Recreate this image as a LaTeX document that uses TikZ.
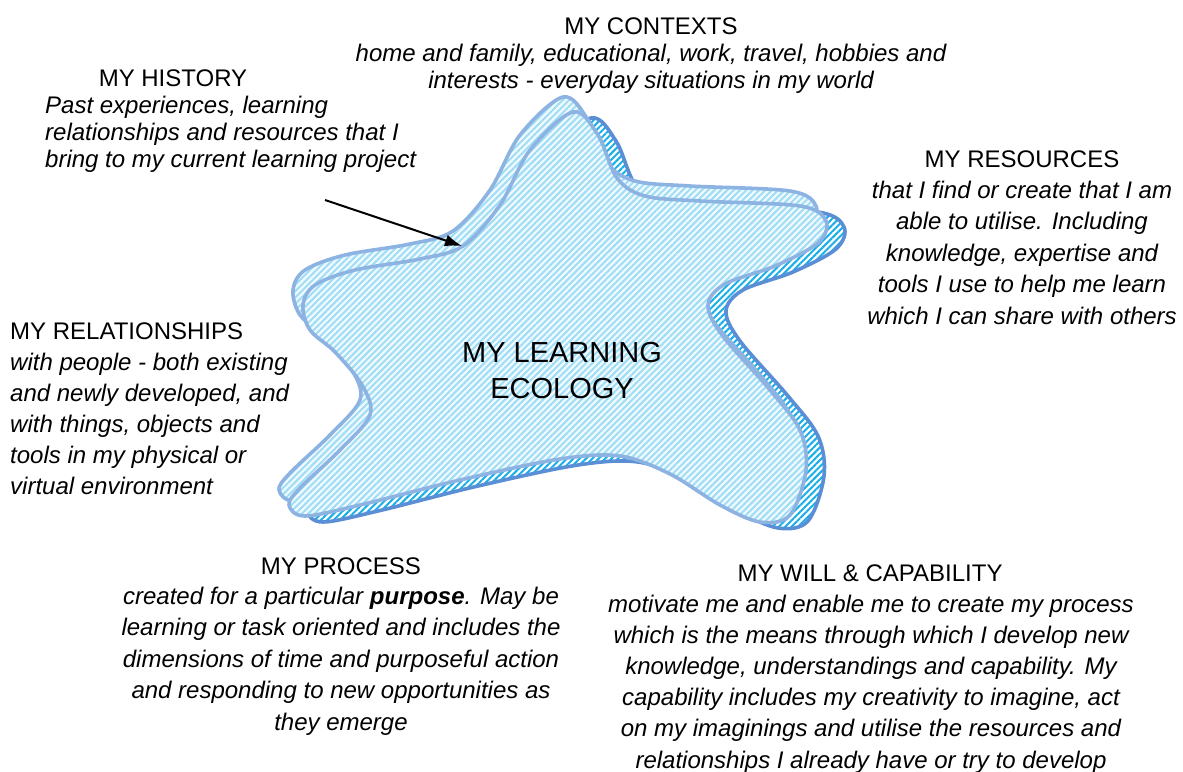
\documentclass[tikz,border=0pt]{standalone}
\usepackage{fontspec}
\setmainfont{Liberation Sans}
\usetikzlibrary{patterns.meta,arrows.meta}
\definecolor{edgelight}{HTML}{8DB3E2}
\definecolor{edgedark}{HTML}{5A8FD6}
\definecolor{bglight}{HTML}{F0FAFE}
\definecolor{stripelight}{HTML}{9EDDF5}
\definecolor{stripedark}{HTML}{18AEE8}
\newcommand{\blobpath}{plot[smooth cycle, tension=0.55] coordinates {
(573,112) (598,135) (617,178) (645,196) (700,201) (800,206) (826,221)
(818,243) (775,266) (725,284) (708,305) (722,335) (770,390) (800,430)
(806,470) (790,515) (760,522) (720,505) (670,474) (620,456) (560,459)
(460,480) (360,505) (305,516) (289,505) (300,488) (340,450) (370,415)
(362,385) (335,352) (310,330) (303,305) (315,285) (355,270) (420,259)
(463,246) (500,205) (530,150)}}
\tikzset{
  head/.style={font=\fontsize{24}{28}\selectfont, inner sep=0pt},
  bodyc/.style={font=\fontsize{24}{31.5}\selectfont\itshape, align=center, inner sep=0pt, anchor=north},
  bodyl/.style={font=\fontsize{24}{31}\selectfont\itshape, align=left, inner sep=0pt, anchor=north west},
  lightlayer/.style={preaction={fill=bglight}, pattern={Lines[angle=45,distance=4.5pt,line width=2pt]}, pattern color=stripelight, draw=edgelight, line width=3.6pt},
  darklayer/.style={preaction={fill=white}, pattern={Lines[angle=45,distance=4.5pt,line width=2pt]}, pattern color=stripedark, draw=edgedark, line width=3.6pt},
}
\begin{document}
\begin{tikzpicture}[x=1pt,y=-1pt]
\useasboundingbox (0,0) rectangle (1183,771);
% back layer
\begin{scope}[shift={(18,6)}]
\path[darklayer] \blobpath;
\end{scope}
% middle layer
\begin{scope}[shift={(-10,-15)}]
\path[lightlayer] \blobpath;
\end{scope}
% front layer
\path[lightlayer, preaction={fill=bglight, fill opacity=0.85}, fill opacity=0.85] \blobpath;

\node[font=\fontsize{29}{36}\selectfont, align=center, inner sep=0pt, anchor=base] (eco) at (562,398) {MY LEARNING\\ECOLOGY};

\node[head, anchor=base] (ctxh) at (651,34.5) {MY CONTEXTS};
\node[bodyc, font=\fontsize{24}{27.5}\selectfont\itshape] (ctxb) at (651,43.5) {home and family, educational, work, travel, hobbies and\\interests - everyday situations in my world};

\node[head, anchor=base] (histh) at (173,86.5) {MY HISTORY};
\node[bodyl, font=\fontsize{24}{27}\selectfont\itshape] (histb) at (45,95.5) {Past experiences, learning\\relationships and resources that I\\bring to my current learning project};

\node[head, anchor=base] (resh) at (1022,167) {MY RESOURCES};
\node[bodyc] (resb) at (1022,180.5) {that I find or create that I am\\able to utilise. Including\\knowledge, expertise and\\tools I use to help me learn\\which I can share with others};

\node[head, anchor=base west] (relh) at (10,339) {MY RELATIONSHIPS};
\node[bodyl] (relb) at (10,352.5) {with people - both existing\\and newly developed, and\\with things, objects and\\tools in my physical or\\virtual environment};

\node[head, anchor=base] (proch) at (341,574) {MY PROCESS};
\node[bodyc] (procb) at (341,586.5) {created for a particular \textbf{purpose}. May be\\learning or task oriented and includes the\\dimensions of time and purposeful action\\and responding to new opportunities as\\they emerge};

\node[head, anchor=base] (willh) at (870,581) {MY WILL \& CAPABILITY};
\node[bodyc, font=\fontsize{24}{31.2}\selectfont\itshape] (willb) at (871,594.5) {motivate me and enable me to create my process\\which is the means through which I develop new\\knowledge, understandings and capability. My\\capability includes my creativity to imagine, act\\on my imaginings and utilise the resources and\\relationships I already have or try to develop};

\coordinate (arrS) at (325,200);
\coordinate (arrE) at (462,246);
\draw[line width=2pt, -{Latex[length=17pt,width=12pt]}] (arrS) -- (arrE);
\end{tikzpicture}
\end{document}
